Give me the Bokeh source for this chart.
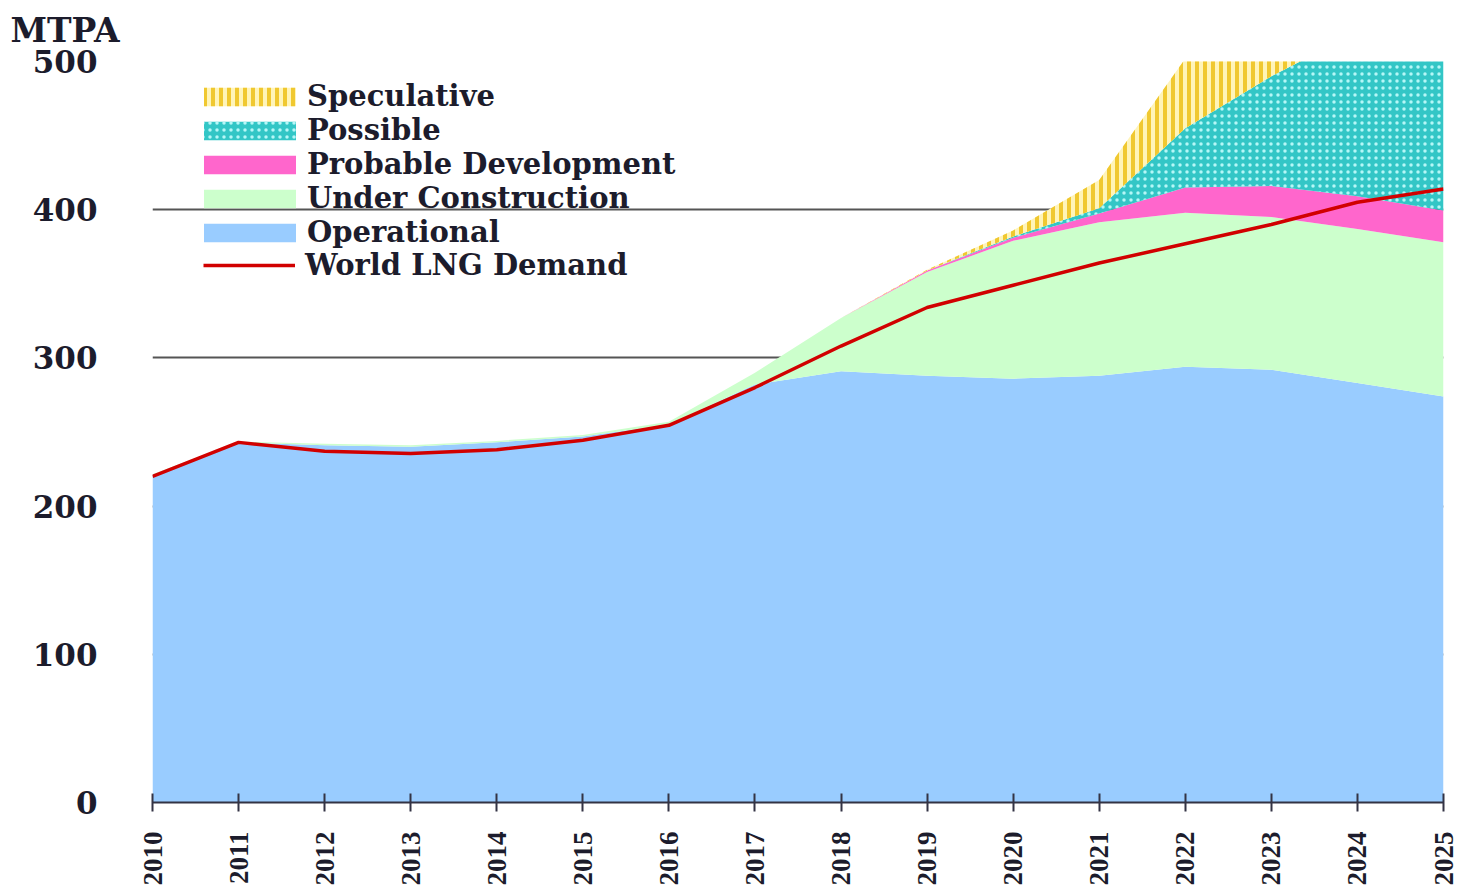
import numpy as np
from bokeh.plotting import figure
from bokeh.models import (ColumnDataSource, Range1d, FixedTicker, Legend, LegendItem)
from bokeh.embed import file_html
from bokeh.resources import INLINE

# ---- data (MTPA) ----
years = [2010, 2011, 2012, 2013, 2014, 2015, 2016, 2017, 2018, 2019, 2020, 2021, 2022, 2023, 2024, 2025]
operational = [221, 243, 241, 240, 243, 247, 255, 282, 291, 288, 286, 288, 294, 292, 283, 274]
under_construction = [0.5, 0.5, 1, 1, 1, 1, 2, 8, 36, 70, 93, 103.5, 104, 103, 104, 104]
probable = [0, 0, 0, 0, 0, 0, 0, 0, 0, 1, 2, 6, 17, 21, 22, 21.5]
possible = [0, 0, 0, 0, 0, 0, 0, 0, 0, 0, 1, 3.5, 40, 74, 111, 145]
speculative = [0, 0, 0, 0, 0, 0, 0, 0, 0, 0.5, 4, 19, 47, 70, 80, 85]
demand = [220, 243, 237, 235.5, 238, 244.5, 254.5, 280, 308, 334, 349, 364, 377, 390, 405, 414]
y_ticks = [0, 100, 200, 300, 400, 500]
unit_label = "MTPA"

# stacked layers
layers = [operational, under_construction, probable, possible, speculative]
tops = np.cumsum(np.array(layers, dtype=float), axis=0)
bottoms = np.vstack([np.zeros(len(years)), tops[:-1]])

src = ColumnDataSource(dict(
    x=years,
    b0=bottoms[0], t0=tops[0],
    b1=bottoms[1], t1=tops[1],
    b2=bottoms[2], t2=tops[2],
    b3=bottoms[3], t3=tops[3],
    b4=bottoms[4], t4=tops[4],
    demand=demand,
))

TEXT = "#1c1c2c"
W, H = 1460, 888
BL, BR, BT, BB = 152, 17, 61, 85
FH = H - BT - BB

p = figure(width=W, height=H, output_backend="svg", toolbar_location=None,
           x_range=Range1d(2010, 2025), y_range=Range1d(0, 500),
           min_border_left=BL, min_border_right=BR, min_border_top=BT, min_border_bottom=BB)
p.outline_line_color = None
p.background_fill_color = "white"
p.border_fill_color = "white"

# unit label "MTPA" (as the plot title, at the top-left)
p.title.text = unit_label
p.title.text_font = "DejaVu Serif"
p.title.text_font_style = "bold"
p.title.text_font_size = "33px"
p.title.text_color = TEXT
p.title.vertical_align = "top"
p.title.align = "left"
p.title.offset = -142
p.title.standoff = 20

# areas
r_op = p.varea(x="x", y1="b0", y2="t0", source=src, fill_color="#99ccff")
r_uc = p.varea(x="x", y1="b1", y2="t1", source=src, fill_color="#ccffcc")
r_pr = p.varea(x="x", y1="b2", y2="t2", source=src, fill_color="#ff66cc")
r_po = p.varea(x="x", y1="b3", y2="t3", source=src, fill_color="#33c6c6",
               hatch_pattern="dot", hatch_color="#b5f7f7", hatch_scale=7, hatch_weight=2)
r_sp = p.varea(x="x", y1="b4", y2="t4", source=src, fill_color="#fff4b8",
               hatch_pattern="vertical_line", hatch_color="#f0c830", hatch_scale=8, hatch_weight=4)
r_dm = p.line(x="x", y="demand", source=src, line_color="#d10000", line_width=3.5)

# axes
p.xaxis.ticker = FixedTicker(ticks=years)
p.xaxis.major_label_orientation = np.pi / 2
p.xaxis.major_label_text_font = "Liberation Serif"
p.xaxis.major_label_text_font_style = "bold"
p.xaxis.major_label_text_font_size = "27px"
p.xaxis.major_label_text_color = TEXT
p.xaxis.axis_line_color = "#333344"
p.xaxis.axis_line_width = 2
p.xaxis.major_tick_line_color = "#333344"
p.xaxis.major_tick_line_width = 2
p.xaxis.major_tick_in = 9
p.xaxis.major_tick_out = 9
p.xaxis.minor_tick_line_color = None
p.xaxis.minor_tick_out = 0
p.xaxis.major_label_standoff = 20

p.yaxis.ticker = FixedTicker(ticks=y_ticks)
p.yaxis.axis_line_color = None
p.yaxis.major_tick_line_color = None
p.yaxis.minor_tick_line_color = None
p.yaxis.major_label_text_font = "DejaVu Serif"
p.yaxis.major_label_text_font_style = "bold"
p.yaxis.major_label_text_font_size = "31px"
p.yaxis.major_label_text_color = TEXT
p.yaxis.major_label_standoff = 49

p.xgrid.grid_line_color = None
p.ygrid.ticker = FixedTicker(ticks=y_ticks)
p.ygrid.grid_line_color = "#555555"
p.ygrid.grid_line_width = 2

def style_legend(lg, gw, gh, standoff):
    lg.label_text_font = "DejaVu Serif"
    lg.label_text_font_style = "bold"
    lg.label_text_font_size = "29px"
    lg.label_text_color = TEXT
    lg.glyph_width = gw
    lg.glyph_height = gh
    lg.label_height = 34
    lg.label_standoff = standoff
    lg.spacing = 0
    lg.padding = 0
    lg.margin = 0
    lg.background_fill_alpha = 0
    lg.border_line_color = None

# area legend (area legend glyphs are drawn with a 10% inset)
legend_areas = Legend(items=[
    LegendItem(label="Speculative", renderers=[r_sp]),
    LegendItem(label="Possible", renderers=[r_po]),
    LegendItem(label="Probable Development", renderers=[r_pr]),
    LegendItem(label="Under Construction", renderers=[r_uc]),
    LegendItem(label="Operational", renderers=[r_op]),
], location=(40, FH - 19 - 170))
style_legend(legend_areas, 115, 23, 0)
p.add_layout(legend_areas)

legend_line = Legend(items=[
    LegendItem(label="World LNG Demand", renderers=[r_dm]),
], location=(51, FH - 188 - 34))
style_legend(legend_line, 92, 18, 10)
p.add_layout(legend_line)

open("out.html", "w").write(file_html(p, INLINE))
